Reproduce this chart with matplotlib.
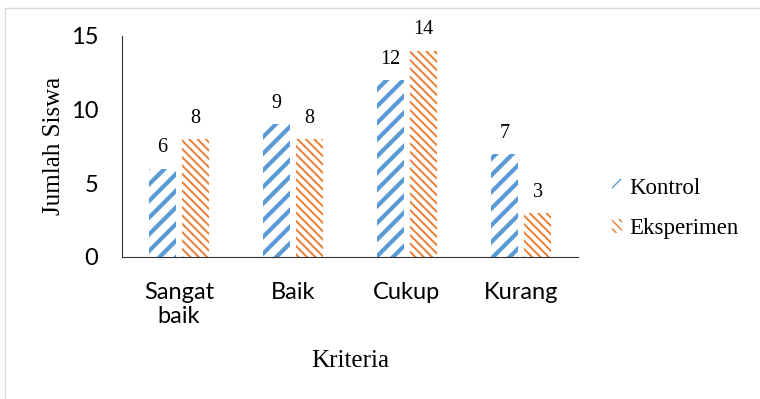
import numpy as np
import matplotlib.pyplot as plt
from matplotlib.patches import Rectangle

# data
kriteria = ['Sangat\nbaik', 'Baik', 'Cukup', 'Kurang']
kontrol = [6, 9, 12, 7]
eksperimen = [8, 8, 14, 3]

BLUE = '#5B9BD5'
ORANGE = '#ED7D31'
SERIF = 'Liberation Serif'
SANS = 'Lato'


def hatched_bars(ax, x, values, color, hatch, hatch_lw, label):
    with plt.rc_context({'hatch.linewidth': hatch_lw}):
        bars = ax.bar(x, values, width=0.23, color='white', edgecolor=color,
                      linewidth=0, hatch=hatch, label=label)
    for b in bars:
        if hasattr(b, 'set_hatch_linewidth'):
            b.set_hatch_linewidth(hatch_lw)
    # value labels above the bars
    for b, v in zip(bars, values):
        ax.annotate(str(v), (b.get_x() + b.get_width() / 2, v),
                    xytext=(0, 8), textcoords='offset points',
                    ha='center', va='bottom', fontsize=14.5, family=SERIF,
                    annotation_clip=False)
    return bars


def main():
    fig = plt.figure(figsize=(7.6, 3.99), dpi=100)
    ax = fig.add_axes([0.1605, 0.3559, 0.6, 0.5543])

    # thin frame around the whole chart
    fig.patches.append(Rectangle((5 / 760, -0.1), 1.2, 1 - 8 / 399 + 0.1,
                                 transform=fig.transFigure, fill=False,
                                 edgecolor='#d9d9d9', linewidth=1))

    x = np.arange(len(kriteria))
    hatched_bars(ax, x - 0.145, kontrol, BLUE, '//', 3.0, 'Kontrol')
    hatched_bars(ax, x + 0.145, eksperimen, ORANGE, '\\\\\\\\', 1.4, 'Eksperimen')

    ax.set_xlim(-0.5, 3.5)
    ax.set_ylim(0, 15)
    ax.set_yticks([0, 5, 10, 15])
    ax.set_xticks(x)
    ax.set_xticklabels(kriteria, fontsize=17, family=SANS, linespacing=1.15)
    for t in ax.get_yticklabels():
        t.set_fontsize(17)
        t.set_family(SANS)
    ax.tick_params(axis='y', length=0, pad=17)
    ax.tick_params(axis='x', length=0, pad=18)

    for s in ['top', 'right']:
        ax.spines[s].set_visible(False)
    ax.spines['left'].set_color('#333333')
    ax.spines['bottom'].set_color('#333333')

    ax.set_xlabel('Kriteria', fontsize=18, family=SERIF, labelpad=17)
    ax.set_ylabel('Jumlah Siswa', fontsize=18, family=SERIF, labelpad=4)

    ax.legend(loc='center left', bbox_to_anchor=(0.778, 0.478),
              bbox_transform=fig.transFigure, frameon=False,
              prop={'family': SERIF, 'size': 16.5}, handlelength=0.45,
              handleheight=0.55, handletextpad=0.3, labelspacing=0.85)

    fig.savefig('out.png', dpi=100)


if __name__ == '__main__':
    main()
